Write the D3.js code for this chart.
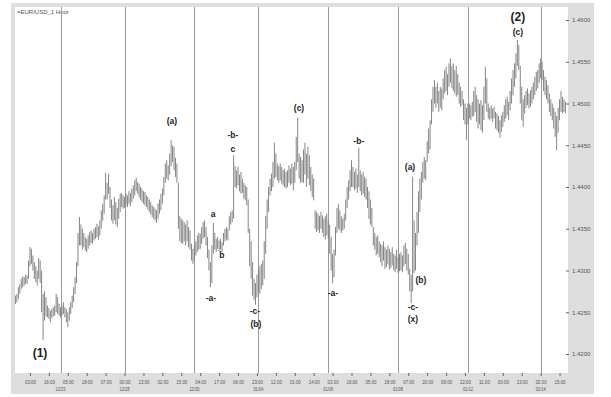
<!DOCTYPE html>
<html>
<head>
<meta charset="UTF-8">
<title>EUR/USD 1 Hour</title>
<style>
    body {
        margin: 0;
        background: #fff;
        font-family: "Liberation Sans", Arial, sans-serif;
    }
    .bar {
        stroke: #858585;
        stroke-width: 1px;
    }
    .sep {
        stroke: #9a9a9a;
        stroke-width: 1px;
    }
    .axisText {
        fill: #555;
        font-size: 6px;
    }
    .wave {
        fill: #222;
        font-weight: bold;
        font-size: 8.5px;
        text-anchor: middle;
    }
</style>
</head>
<body>
<div id="chart"></div>
<script src="https://d3js.org/d3.v7.min.js"></script>
<script>

    // hourly bars, values in pips above 1.4000
    let highs = [270,272,280,284,290,293,292,295,294,312,
        328,326,318,310,305,300,315,312,300,272,
        275,268,258,255,252,254,256,258,272,268,
        260,256,258,262,256,254,250,256,262,270,
        280,292,310,345,364,355,350,345,340,338,
        342,346,348,345,350,352,356,353,360,372,
        380,390,417,405,416,400,385,378,388,382,
        375,386,392,393,390,388,392,390,395,393,
        398,402,408,411,406,404,400,398,395,394,
        390,388,385,382,378,376,374,372,380,385,
        392,398,412,428,432,426,440,456,450,448,
        435,428,405,365,362,360,358,355,360,352,
        348,332,326,330,335,342,345,344,352,358,
        360,352,340,325,310,330,357,345,338,340,
        336,338,334,345,350,352,350,365,370,372,
        438,425,420,424,415,418,410,405,402,400,
        385,350,335,310,290,285,295,300,305,308,
        312,335,365,385,400,410,416,430,453,440,
        428,425,428,424,420,422,418,420,426,422,
        428,424,430,460,483,440,436,432,445,453,
        440,448,438,424,415,410,372,370,368,365,
        370,366,362,365,368,360,355,340,320,325,
        352,375,380,372,365,362,368,385,400,408,
        420,432,424,418,422,415,447,420,415,418,
        412,410,400,395,385,375,352,345,340,342,
        335,332,330,335,328,325,330,326,322,328,
        320,318,325,316,320,322,318,330,333,326,
        320,302,295,412,360,345,370,395,410,418,
        430,436,432,455,470,480,505,520,528,520,
        525,515,520,518,530,540,544,535,548,554,
        545,548,540,545,535,525,520,515,505,500,
        495,500,500,498,502,515,520,510,505,500,
        504,498,520,544,530,500,495,498,494,496,
        490,488,485,480,486,490,498,505,508,502,
        515,530,540,548,560,576,570,545,520,505,
        510,515,518,512,516,520,525,532,538,540,
        548,554,550,540,532,528,522,512,505,500,
        495,490,485,495,505,515,508,505,502];

    let lows = [260,262,266,272,278,280,282,284,284,290,
        305,308,300,290,286,282,290,285,250,217,
        240,245,244,242,238,243,245,246,250,248,
        246,244,246,248,244,238,232,240,248,255,
        262,272,285,305,330,330,325,328,324,322,
        326,330,333,332,336,338,340,337,342,350,
        360,368,385,385,392,375,360,356,360,355,
        352,362,370,376,374,375,378,376,380,377,
        382,386,390,395,392,388,385,382,380,378,
        376,373,370,367,364,362,360,357,362,368,
        372,380,390,405,410,408,415,425,430,420,
        412,405,350,335,333,332,335,330,335,328,
        325,312,308,312,318,322,325,326,332,338,
        340,330,315,300,280,285,320,325,322,326,
        323,325,322,330,335,337,336,348,355,358,
        362,400,398,402,395,392,393,386,384,378,
        345,305,290,270,265,259,268,275,272,278,
        282,290,320,350,370,390,395,400,410,412,
        408,405,408,404,402,400,398,400,405,402,
        404,396,405,420,430,410,405,406,405,415,
        400,410,402,395,388,384,350,346,348,345,
        350,345,340,337,342,338,320,300,285,292,
        318,345,350,348,345,348,350,360,375,385,
        395,400,400,396,398,393,400,395,390,392,
        388,385,375,362,355,352,330,325,318,320,
        316,310,305,312,302,304,308,301,303,306,
        300,298,302,297,299,300,298,305,308,300,
        295,275,261,275,297,300,330,345,370,385,
        405,410,408,430,440,445,475,490,500,495,
        500,490,495,492,505,512,515,510,520,525,
        518,515,512,508,510,500,496,498,480,475,
        456,475,482,480,484,485,490,478,470,475,
        468,465,480,500,490,482,480,482,478,482,
        470,468,465,459,466,472,478,482,486,480,
        492,500,510,520,530,545,540,500,480,472,
        488,495,498,494,496,500,505,510,515,518,
        525,530,528,515,510,505,500,490,485,480,
        470,460,444,465,480,490,488,490,488];

    // a time label every 13 bars, first one on bar 10
    let timeLabels = ["03:00","16:00","05:00","18:00","07:00","00:00","13:00","02:00","15:00",
        "04:00","17:00","06:00","23:00","12:00","01:00","14:00","03:00","16:00","05:00",
        "18:00","07:00","20:00","09:00","22:00","11:00","00:00","13:00","02:00","15:00"];

    let dayBars = [31, 75, 123, 167, 215, 263, 311, 361];
    let dayLabels = ["12/23","12/28","12/30","01/04","01/06","01/08","01/12","01/14"];

    let priceTicks = [1.42, 1.425, 1.43, 1.435, 1.44, 1.445, 1.45, 1.455, 1.46];

    // wave counts: text, bar, price
    let waveText  = ["(1)","(2)","(c)","(a)","a","b","-a-","-b-","c","-c-","(b)","(c)","-a-","-b-","(a)","(b)","-c-","(x)"];
    let waveBar   = [16.9, 345.4, 345.4, 107.6, 135.8, 141.9, 134.4, 149.5, 149.5, 164.6, 165.3, 194.9, 218.2, 236.1, 271.2, 278.7, 273.2, 273.2];
    let wavePrice = [1.4202, 1.4604, 1.4586, 1.4479, 1.4368, 1.4319, 1.4267, 1.4462, 1.4446, 1.4251, 1.4236, 1.4495, 1.4273, 1.4455, 1.4424, 1.4289, 1.4256, 1.4242];

    let width = 611, height = 397;
    let plot = {left: 15, right: 568, top: 7, bottom: 373};

    let svg = d3.select("#chart").append("svg")
        .attr("width", width)
        .attr("height", height);

    let x = d3.scaleLinear()
        .domain([-0.3, 379.8])
        .range([plot.left, plot.right]);

    let y = d3.scaleLinear()
        .domain([1.42, 1.46])
        .range([354, 20]);

    //frame
    svg.append("rect")
        .attr("x", 11).attr("y", 3)
        .attr("width", 594 - 11).attr("height", 394 - 3)
        .attr("fill", "#dedede");
    svg.append("rect")
        .attr("x", plot.left).attr("y", plot.top)
        .attr("width", plot.right - plot.left).attr("height", plot.bottom - plot.top)
        .attr("fill", "#fff");

    svg.append("text")
        .attr("class", "axisText")
        .attr("x", 17).attr("y", 14)
        .attr("fill", "#333")
        .text("=EUR/USD_1 Hour");

    //day separators
    svg.selectAll("line.sep")
        .data(dayBars)
        .enter().append("line")
        .attr("class", "sep")
        .attr("x1", d => Math.round(x(d)) + 0.5)
        .attr("x2", d => Math.round(x(d)) + 0.5)
        .attr("y1", plot.top)
        .attr("y2", plot.bottom);

    //bars
    svg.append("g")
        .selectAll("line")
        .data(highs)
        .enter().append("line")
        .attr("class", "bar")
        .attr("x1", (d, i) => x(i))
        .attr("x2", (d, i) => x(i))
        .attr("y1", d => y(1.4 + d / 10000))
        .attr("y2", (d, i) => y(1.4 + lows[i] / 10000));

    //price axis
    let yAxis = svg.append("g")
        .attr("transform", "translate(" + plot.right + ",0)")
        .call(d3.axisRight(y)
            .tickValues(priceTicks)
            .tickFormat(d3.format(".4f"))
            .tickSize(0)
            .tickPadding(4));
    yAxis.select(".domain").remove();
    yAxis.selectAll("text")
        .attr("class", "axisText")
        .attr("font-family", null)
        .attr("font-size", null);
    yAxis.selectAll(".tick").append("line")
        .attr("x1", -2).attr("x2", 1)
        .attr("stroke", "#666");

    //time axis
    let timeBars = timeLabels.map((d, i) => 10 + 13 * i);
    let xAxis = svg.append("g")
        .attr("transform", "translate(0," + plot.bottom + ")")
        .call(d3.axisBottom(x)
            .tickValues(timeBars)
            .tickFormat((d, i) => timeLabels[i])
            .tickSize(3)
            .tickPadding(4));
    xAxis.select(".domain").remove();
    xAxis.selectAll("line").attr("stroke", "#666");
    xAxis.selectAll("text")
        .attr("class", "axisText")
        .attr("font-family", null)
        .attr("font-size", null)
        .attr("textLength", 11)
        .attr("lengthAdjust", "spacingAndGlyphs");

    svg.selectAll("text.day")
        .data(dayBars)
        .enter().append("text")
        .attr("class", "axisText day")
        .attr("x", d => x(d))
        .attr("y", 391)
        .attr("text-anchor", "middle")
        .attr("textLength", 10)
        .attr("lengthAdjust", "spacingAndGlyphs")
        .text((d, i) => dayLabels[i]);

    //wave labels
    svg.selectAll("text.wave")
        .data(waveText)
        .enter().append("text")
        .attr("class", "wave")
        .attr("x", (d, i) => x(waveBar[i]))
        .attr("y", (d, i) => y(wavePrice[i]))
        .attr("dy", "0.35em")
        .style("font-size", d => (d == "(1)" || d == "(2)") ? "12px" : null)
        .text(d => d);

</script>
</body>
</html>
